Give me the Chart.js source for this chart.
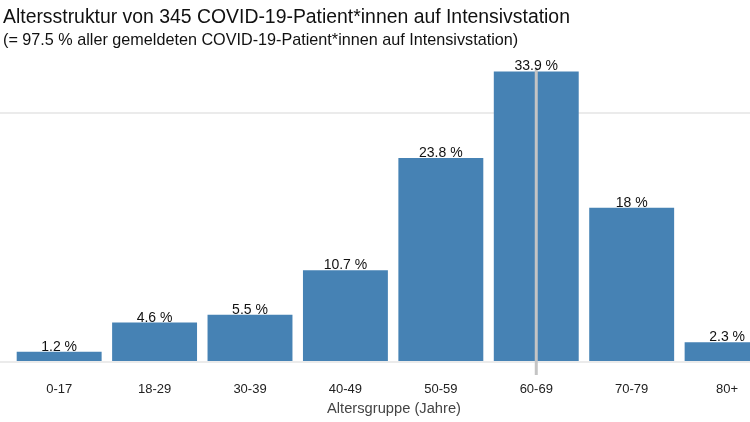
<!DOCTYPE html>
<html><head><meta charset="utf-8">
<script src="https://cdn.jsdelivr.net/npm/chart.js@4/dist/chart.umd.min.js"></script>
<style>html,body{margin:0;padding:0;background:#fff;overflow:hidden}#wrap{width:750px;height:422px;position:relative}</style>
</head><body><div id="wrap"><canvas id="c" width="750" height="422"></canvas></div>
<script>
const TITLE = "Altersstruktur von 345 COVID-19-Patient*innen auf Intensivstation";
const SUBTITLE = "(= 97.5 % aller gemeldeten COVID-19-Patient*innen auf Intensivstation)";
const X_TITLE = "Altersgruppe (Jahre)";
const categories = ["0-17","18-29","30-39","40-49","50-59","60-69","70-79","80+"];
const values = [1.2, 4.6, 5.5, 10.7, 23.8, 33.9, 18, 2.3];
const valueLabels = ["1.2 %","4.6 %","5.5 %","10.7 %","23.8 %","33.9 %","18 %","2.3 %"];
const gridValues = [0, 29.1];
const medianIndex = 5;

const FONT = "'Liberation Sans', Arial, sans-serif";

const overlay = {
  id: 'overlay',
  beforeDraw(chart) {
    const ctx = chart.ctx;
    ctx.save();
    ctx.fillStyle = '#111';
    ctx.textBaseline = 'alphabetic';
    ctx.textAlign = 'left';
    ctx.font = "19.4px " + FONT;
    ctx.fillText(TITLE, 3, 23);
    ctx.font = "16.2px " + FONT;
    ctx.fillText(SUBTITLE, 3, 45);
    ctx.restore();
  },
  afterDatasetsDraw(chart) {
    const ctx = chart.ctx;
    const xs = chart.scales.x;
    const area = chart.chartArea;
    // median marker line
    const mx = xs.getPixelForValue(medianIndex);
    ctx.save();
    ctx.strokeStyle = '#c4c4c4';
    ctx.lineWidth = 3;
    ctx.beginPath();
    ctx.moveTo(mx, 68);
    ctx.lineTo(mx, area.bottom + 13);
    ctx.stroke();
    // value labels
    const meta = chart.getDatasetMeta(0);
    ctx.fillStyle = '#111';
    ctx.font = "14px " + FONT;
    ctx.textAlign = 'center';
    ctx.textBaseline = 'alphabetic';
    meta.data.forEach((bar, i) => {
      ctx.fillText(valueLabels[i], bar.x, bar.y - 1);
    });
    // x axis title
    ctx.fillStyle = '#444';
    ctx.font = "14.7px " + FONT;
    ctx.fillText(X_TITLE, 394, 413);
    ctx.restore();
  }
};

new Chart(document.getElementById('c'), {
  type: 'bar',
  data: {
    datasets: [{
      data: values.map((v, i) => ({x: i, y: v})),
      backgroundColor: '#4682B4',
      borderWidth: 0,
      barPercentage: 0.89,
      categoryPercentage: 1.0
    }]
  },
  options: {
    responsive: false,
    animation: false,
    layout: {padding: {top: 62, left: 0, right: 0, bottom: 0}},
    plugins: {legend: {display: false}, tooltip: {enabled: false}},
    scales: {
      x: {
        type: 'linear',
        offset: false,
        min: -0.62,
        max: 7.24,
        grid: {display: false, drawTicks: false, tickLength: 0},
        border: {display: false},
        afterBuildTicks(s) { s.ticks = categories.map((c, i) => ({value: i})); },
        afterFit(s) { s.height = 60; s.paddingLeft = 0; s.paddingRight = 0; },
        ticks: {
          padding: 20,
          autoSkip: false,
          maxRotation: 0,
          color: '#222',
          font: {family: FONT, size: 13},
          callback: (v) => categories[v]
        }
      },
      y: {
        min: 0,
        max: 35,
        afterBuildTicks(s) { s.ticks = gridValues.map(v => ({value: v})); },
        afterFit(s) { s.width = 0; },
        ticks: {display: false},
        border: {display: false},
        grid: {color: '#ebebeb', lineWidth: 2, drawTicks: false}
      }
    }
  },
  plugins: [overlay]
});
</script>
</body></html>
